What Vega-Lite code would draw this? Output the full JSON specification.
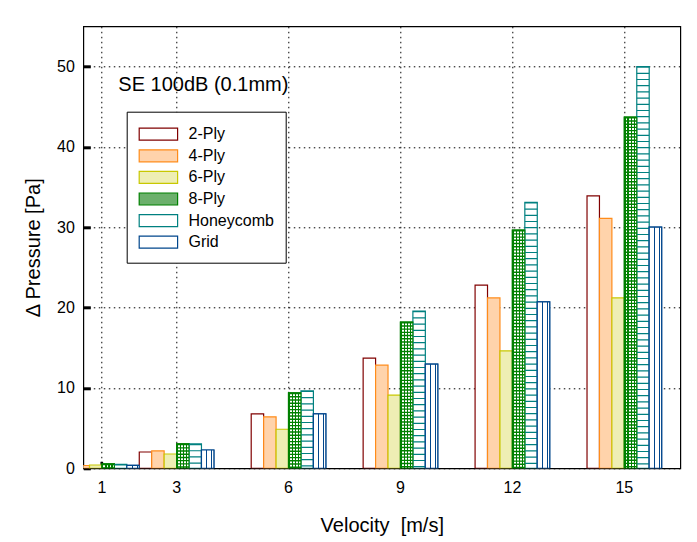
{
  "$schema": "https://vega.github.io/schema/vega-lite/v6.json",
  "autosize": "none",
  "width": 597,
  "height": 442,
  "padding": {"left": 83.3, "top": 26.3, "right": 16.7, "bottom": 73.7},
  "background": "white",
  "config": {
    "font": "Liberation Sans",
    "view": {"stroke": "black", "strokeWidth": 1.2}
  },
  "title": {
    "text": "SE 100dB (0.1mm)",
    "anchor": "start",
    "frame": "group",
    "offset": 0,
    "dx": 35,
    "dy": 84.4,
    "baseline": "alphabetic",
    "fontSize": 20,
    "fontWeight": "normal",
    "font": "Liberation Sans",
    "color": "black"
  },
  "data": {
    "values": [
      {"velocity": 1, "series": "2-Ply", "value": 0.3},
      {"velocity": 1, "series": "4-Ply", "value": 0.35},
      {"velocity": 1, "series": "6-Ply", "value": 0.41},
      {"velocity": 1, "series": "8-Ply", "value": 0.54},
      {"velocity": 1, "series": "Honeycomb", "value": 0.5},
      {"velocity": 1, "series": "Grid", "value": 0.37},
      {"velocity": 3, "series": "2-Ply", "value": 2.03},
      {"velocity": 3, "series": "4-Ply", "value": 2.16},
      {"velocity": 3, "series": "6-Ply", "value": 1.78},
      {"velocity": 3, "series": "8-Ply", "value": 3.03},
      {"velocity": 3, "series": "Honeycomb", "value": 3.03},
      {"velocity": 3, "series": "Grid", "value": 2.28},
      {"velocity": 6, "series": "2-Ply", "value": 6.77},
      {"velocity": 6, "series": "4-Ply", "value": 6.4},
      {"velocity": 6, "series": "6-Ply", "value": 4.86},
      {"velocity": 6, "series": "8-Ply", "value": 9.38},
      {"velocity": 6, "series": "Honeycomb", "value": 9.63},
      {"velocity": 6, "series": "Grid", "value": 6.77},
      {"velocity": 9, "series": "2-Ply", "value": 13.7},
      {"velocity": 9, "series": "4-Ply", "value": 12.83},
      {"velocity": 9, "series": "6-Ply", "value": 9.1},
      {"velocity": 9, "series": "8-Ply", "value": 18.2},
      {"velocity": 9, "series": "Honeycomb", "value": 19.56},
      {"velocity": 9, "series": "Grid", "value": 12.96},
      {"velocity": 12, "series": "2-Ply", "value": 22.8},
      {"velocity": 12, "series": "4-Ply", "value": 21.2},
      {"velocity": 12, "series": "6-Ply", "value": 14.6},
      {"velocity": 12, "series": "8-Ply", "value": 29.65},
      {"velocity": 12, "series": "Honeycomb", "value": 33.1},
      {"velocity": 12, "series": "Grid", "value": 20.7},
      {"velocity": 15, "series": "2-Ply", "value": 33.9},
      {"velocity": 15, "series": "4-Ply", "value": 31.1},
      {"velocity": 15, "series": "6-Ply", "value": 21.2},
      {"velocity": 15, "series": "8-Ply", "value": 43.7},
      {"velocity": 15, "series": "Honeycomb", "value": 50.0},
      {"velocity": 15, "series": "Grid", "value": 30.0}
    ]
  },
  "encoding": {
    "x": {
      "field": "velocity",
      "type": "ordinal",
      "scale": {"domain": [1,2,3,4,5,6,7,8,9,10,11,12,13,14,15,16], "paddingInner": 0, "paddingOuter": 0},
      "axis": {
        "values": [1,3,6,9,12,15],
        "bandPosition": 0.5,
        "labelAngle": 0,
        "domain": false,
        "ticks": true,
        "tickSize": -7,
        "tickWidth": 2.7,
        "tickColor": "black",
        "grid": true,
        "gridColor": "black",
        "gridDash": [1.5, 3.5],
        "gridWidth": 1,
        "gridOpacity": 1,
        "labelFontSize": 16,
        "labelFont": "Liberation Sans",
        "labelColor": "black",
        "labelPadding": 18,
        "title": "Velocity \u00a0[m/s]",
        "titleFontSize": 20,
        "titleFontWeight": "normal",
        "titleFont": "Liberation Sans",
        "titleColor": "black",
        "titleY": 63.4,
        "titleBaseline": "alphabetic"
      }
    },
    "xOffset": {
      "field": "series",
      "type": "nominal",
      "scale": {"domain": ["2-Ply","4-Ply","6-Ply","8-Ply","Honeycomb","Grid"], "range": [-18.656, 55.969], "paddingInner": 0, "paddingOuter": 0}
    },
    "y": {
      "field": "value",
      "type": "quantitative",
      "scale": {"domain": [0, 55], "nice": false},
      "axis": {
        "values": [0,10,20,30,40,50],
        "domain": false,
        "ticks": true,
        "tickSize": -7,
        "tickWidth": 3,
        "tickColor": "black",
        "grid": true,
        "gridColor": "black",
        "gridDash": [1.5, 3.5],
        "gridWidth": 1,
        "gridOpacity": 1,
        "labelFontSize": 16,
        "labelFont": "Liberation Sans",
        "labelColor": "black",
        "labelPadding": 16,
        "title": "Δ Pressure [Pa]",
        "titleFontSize": 20,
        "titleFontWeight": "normal",
        "titleFont": "Liberation Sans",
        "titleColor": "black",
        "titleX": -44,
        "titleBaseline": "alphabetic"
      }
    }
  },
  "layer": [
    {
      "mark": {"type": "bar", "clip": true, "strokeWidth": 1.2, "opacity": 1},
      "encoding": {
        "fill": {
          "field": "series",
          "type": "nominal",
          "scale": {"domain": ["2-Ply","4-Ply","6-Ply","8-Ply","Honeycomb","Grid"], "range": ["#ffffff","#ffd3ab","#eeeeb4","#6cb06c","#ffffff","#ffffff"]},
          "legend": {
            "orient": "none",
            "legendX": 43.4,
            "legendY": 85.4,
            "title": null,
            "symbolType": "M-1,-0.6H2.84V0.6H-1Z",
            "symbolSize": 400,
            "symbolStrokeWidth": 1.2,
            "symbolOpacity": 1,
            "labelFontSize": 16,
            "labelFont": "Liberation Sans",
            "labelColor": "black",
            "labelOffset": 28.3,
            "padding": 11.5,
            "rowPadding": 1.6,
            "strokeColor": "black",
            "fillColor": "white",
            "cornerRadius": 0
          }
        },
        "stroke": {
          "field": "series",
          "type": "nominal",
          "scale": {"domain": ["2-Ply","4-Ply","6-Ply","8-Ply","Honeycomb","Grid"], "range": ["#800000","#ff8c1a","#c8c800","#008000","#008080","#00468c"]},
          "legend": {
            "orient": "none",
            "legendX": 43.4,
            "legendY": 85.4,
            "title": null,
            "symbolType": "M-1,-0.6H2.84V0.6H-1Z",
            "symbolSize": 400,
            "symbolStrokeWidth": 1.2,
            "symbolOpacity": 1,
            "labelFontSize": 16,
            "labelFont": "Liberation Sans",
            "labelColor": "black",
            "labelOffset": 28.3,
            "padding": 11.5,
            "rowPadding": 1.6,
            "strokeColor": "black",
            "fillColor": "white",
            "cornerRadius": 0
          }
        }
      }
    },
    {
      "transform": [{"filter": "datum.series === '8-Ply'"}],
      "mark": {
        "type": "bar", "clip": true, "strokeWidth": 1.2, "stroke": "#008000",
        "fill": {
          "gradient": "linear", "x1": 0, "y1": 0, "x2": 1, "y2": 0,
          "stops": [
            {"offset": 0, "color": "#008000"}, {"offset": 0.12, "color": "#008000"},
            {"offset": 0.12, "color": "#ffffff"}, {"offset": 0.25, "color": "#ffffff"},
            {"offset": 0.25, "color": "#008000"}, {"offset": 0.37, "color": "#008000"},
            {"offset": 0.37, "color": "#ffffff"}, {"offset": 0.5, "color": "#ffffff"},
            {"offset": 0.5, "color": "#008000"}, {"offset": 0.62, "color": "#008000"},
            {"offset": 0.62, "color": "#ffffff"}, {"offset": 0.75, "color": "#ffffff"},
            {"offset": 0.75, "color": "#008000"}, {"offset": 0.87, "color": "#008000"},
            {"offset": 0.87, "color": "#ffffff"}, {"offset": 1, "color": "#ffffff"}
          ]
        }
      },
      "encoding": {}
    },
    {
      "transform": [{"filter": "datum.series === '8-Ply'"}],
      "mark": {"type": "rule", "clip": true, "color": "#008000", "strokeWidth": 12.4, "strokeDash": [1.4, 1.8], "strokeCap": "butt"},
      "encoding": {"y2": {"datum": 0}}
    },
    {
      "transform": [{"filter": "datum.series === 'Honeycomb'"}],
      "mark": {"type": "rule", "clip": true, "color": "#008080", "strokeWidth": 12.4, "strokeDash": [1.2, 5.0], "strokeCap": "butt"},
      "encoding": {"y2": {"datum": 0}}
    },
    {
      "transform": [{"filter": "datum.series === 'Grid'"}],
      "mark": {
        "type": "bar", "clip": true, "strokeWidth": 1.2, "stroke": "#00468c",
        "fill": {
          "gradient": "linear", "x1": 0, "y1": 0, "x2": 1, "y2": 0,
          "stops": [
            {"offset": 0, "color": "#ffffff"}, {"offset": 0.4, "color": "#ffffff"},
            {"offset": 0.4, "color": "#00468c"}, {"offset": 0.48, "color": "#00468c"},
            {"offset": 0.48, "color": "#ffffff"}, {"offset": 0.8, "color": "#ffffff"},
            {"offset": 0.8, "color": "#00468c"}, {"offset": 0.88, "color": "#00468c"},
            {"offset": 0.88, "color": "#ffffff"}, {"offset": 1, "color": "#ffffff"}
          ]
        }
      },
      "encoding": {}
    }
  ]
}
